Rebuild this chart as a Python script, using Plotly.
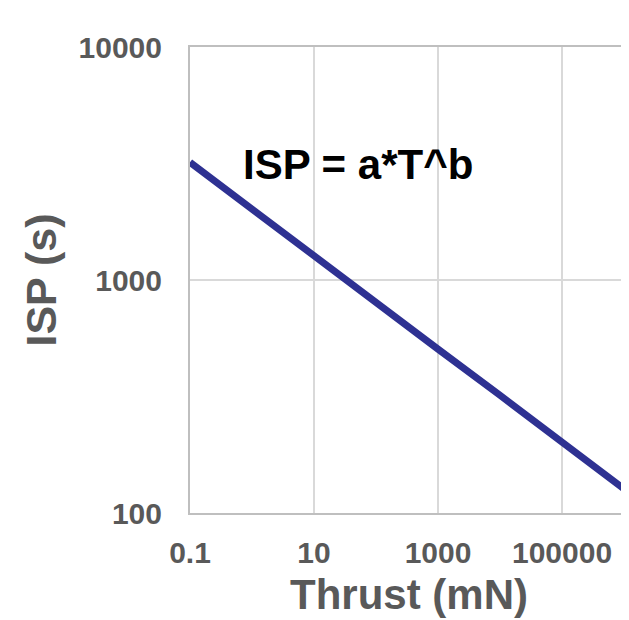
import plotly.graph_objects as go

thrust_mN = [0.1, 1, 10, 100, 1000, 10000, 100000, 1000000]
isp_s = [3200, 2010, 1270, 800, 505, 320, 201, 127]

x_tickvals = [0.1, 10, 1000, 100000]
x_ticktext = ["0.1", "10", "1000", "100000"]
y_tickvals = [100, 1000, 10000]
y_ticktext = ["100", "1000", "10000"]

FONT = "Liberation Sans, Arial, sans-serif"
GRAY = "#595959"

fig = go.Figure()
fig.add_trace(go.Scatter(
    x=thrust_mN, y=isp_s, mode="lines",
    line=dict(color="#2E3192", width=7),
    showlegend=False, hoverinfo="skip",
))

fig.update_layout(
    width=629, height=620,
    margin=dict(l=182, r=11, t=39, b=115),
    paper_bgcolor="white", plot_bgcolor="white",
    font=dict(family=FONT, color=GRAY),
    annotations=[
        dict(
            text="<b>ISP = a*T^b</b>", xref="paper", yref="paper",
            x=0.387, y=0.748, xanchor="center", yanchor="middle",
            showarrow=False, font=dict(family=FONT, size=42, color="black"),
        ),
        dict(
            text="<b>Thrust (mN)</b>", xref="paper", yref="paper",
            x=0.505, y=-0.174, xanchor="center", yanchor="middle",
            showarrow=False, font=dict(family=FONT, size=42, color=GRAY),
        ),
    ],
)

fig.update_xaxes(
    type="log", range=[-1, 6],
    tickvals=x_tickvals, ticktext=[f"<b>{t}</b>" for t in x_ticktext],
    tickfont=dict(family=FONT, size=30, color=GRAY),
    ticks="", ticklabelstandoff=12,
    showgrid=True, gridcolor="#d9d9d9", gridwidth=2,
    showline=True, linecolor="#bfbfbf", linewidth=2, mirror=True,
    zeroline=False,
)
fig.update_yaxes(
    type="log", range=[2, 4],
    tickvals=y_tickvals, ticktext=[f"<b>{t}</b>" for t in y_ticktext],
    tickfont=dict(family=FONT, size=30, color=GRAY),
    ticks="", ticklabelstandoff=20,
    showgrid=True, gridcolor="#d9d9d9", gridwidth=2,
    showline=True, linecolor="#bfbfbf", linewidth=2, mirror=True,
    zeroline=False,
    title=dict(text="<b>ISP (s)</b>", font=dict(family=FONT, size=43, color=GRAY), standoff=9),
)

fig.write_html("out.html")
